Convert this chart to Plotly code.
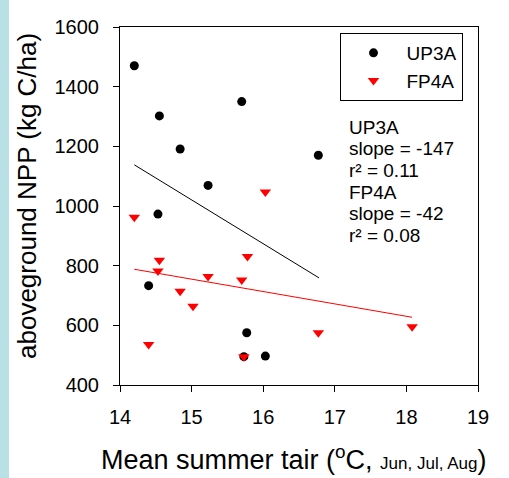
import plotly.graph_objects as go

# ---- data ----
up3a_x = [14.20, 14.55, 14.84, 15.70, 16.77, 15.23, 14.53, 14.40, 15.77, 15.73, 16.03]
up3a_y = [1470, 1302, 1191, 1350, 1170, 1069, 973, 733, 575, 495, 497]

fp4a_x = [14.20, 14.55, 14.53, 14.40, 14.84, 15.02, 15.23, 15.70, 15.78, 15.73, 16.03, 16.77, 18.08]
fp4a_y = [962, 818, 782, 536, 714, 664, 764, 752, 831, 495, 1047, 575, 595]

fit_up3a_x = [14.20, 16.78]
fit_up3a_y = [1138, 759]
fit_fp4a_x = [14.20, 18.08]
fit_fp4a_y = [788, 627]

stats_lines = ["UP3A", "slope = -147", "r\u00b2 = 0.11", "FP4A", "slope = -42", "r\u00b2 = 0.08"]

x_ticks = [14, 15, 16, 17, 18, 19]
y_ticks = [400, 600, 800, 1000, 1200, 1400, 1600]

# ---- layout geometry (pixels) ----
W, H = 509, 478
L, R, T, B = 120, 31, 27, 93
PW, PH = W - L - R, H - T - B
FONT = "Liberation Sans, Arial, sans-serif"


def px(x):
    return (x - L) / PW


def py(y):
    return 1 - (y - T) / PH


fig = go.Figure()
fig.add_trace(go.Scatter(x=fit_up3a_x, y=fit_up3a_y, mode="lines",
                         line=dict(color="black", width=1), showlegend=False, hoverinfo="skip"))
fig.add_trace(go.Scatter(x=fit_fp4a_x, y=fit_fp4a_y, mode="lines",
                         line=dict(color="red", width=1), showlegend=False, hoverinfo="skip"))
fig.add_trace(go.Scatter(x=up3a_x, y=up3a_y, mode="markers", name="UP3A",
                         marker=dict(symbol="circle", size=9, color="black")))
fig.add_trace(go.Scatter(x=fp4a_x, y=fp4a_y, mode="markers", name="FP4A",
                         marker=dict(symbol="triangle-down", size=10, color="red")))

annotations = []
baselines = [127, 148.7, 170.4, 192.1, 213.7, 235.4]
for txt, yy in zip(stats_lines, baselines):
    annotations.append(dict(text=txt, xref="paper", yref="paper", x=px(347), y=py(yy),
                            xanchor="left", yanchor="middle", showarrow=False,
                            font=dict(family=FONT, size=19, color="black")))

annotations.append(dict(
    text="Mean summer tair (<sup>o</sup>C, <span style='font-size:17px'>Jun, Jul, Aug</span>)",
    xref="paper", yref="paper", x=px(293), y=py(458), xanchor="center", yanchor="middle",
    showarrow=False, font=dict(family=FONT, size=27, color="black")))
annotations.append(dict(
    text="aboveground NPP (kg C/ha)", textangle=-90,
    xref="paper", yref="paper", x=px(27), y=py(196), xanchor="center", yanchor="middle",
    showarrow=False, font=dict(family=FONT, size=26, color="black")))

fig.update_layout(
    width=W, height=H,
    margin=dict(l=L, r=R, t=T, b=B, pad=0),
    paper_bgcolor="white", plot_bgcolor="white",
    font=dict(family=FONT, size=20, color="black"),
    showlegend=True,
    legend=dict(x=px(339.5), y=py(33), xanchor="left", yanchor="top",
                bordercolor="black", borderwidth=1, bgcolor="white",
                font=dict(family=FONT, size=19, color="black"),
                itemwidth=56, tracegroupgap=0),
    annotations=annotations,
    shapes=[dict(type="rect", xref="paper", yref="paper",
                 x0=px(0), x1=px(9), y0=py(H), y1=py(0),
                 fillcolor="#b9e0e4", line=dict(width=0), layer="below")],
    xaxis=dict(range=[14, 19], tickvals=x_ticks, ticks="outside", ticklen=6, tickwidth=1,
               tickcolor="black", showline=True, linecolor="black", linewidth=1, mirror=True,
               showgrid=False, zeroline=False, ticklabelstandoff=8,
               tickfont=dict(family=FONT, size=20, color="black")),
    yaxis=dict(range=[400, 1600], tickvals=y_ticks, ticks="outside", ticklen=6, tickwidth=1,
               tickcolor="black", showline=True, linecolor="black", linewidth=1, mirror=True,
               showgrid=False, zeroline=False, ticklabelstandoff=10,
               tickfont=dict(family=FONT, size=20, color="black")),
)

fig.write_html("out.html")
